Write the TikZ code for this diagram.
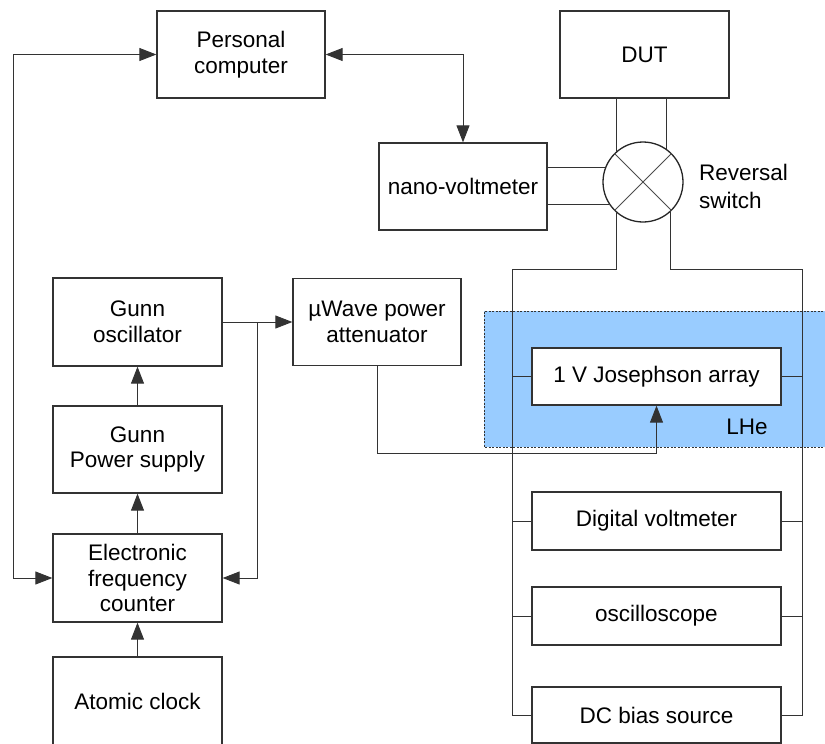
\documentclass[tikz,border=0pt]{standalone}
\usepackage{fontspec}
\setmainfont{Liberation Sans}
\usetikzlibrary{arrows.meta,calc}
\definecolor{lhe}{HTML}{99CCFF}
\definecolor{boxline}{HTML}{333333}
\begin{document}
\begin{tikzpicture}[x=1pt,y=-1pt,
  box/.style={draw=boxline,line width=1.3pt,fill=white,align=center,inner sep=0pt,
    font=\fontsize{22.5}{25.5}\selectfont},
  wire/.style={draw=black!80,line width=0.9pt},
  arr/.style={wire,-{Triangle[length=17pt,width=13pt]}},
  darr/.style={wire,{Triangle[length=17pt,width=13pt]}-{Triangle[length=17pt,width=13pt]}},
  lbl/.style={font=\fontsize{22.5}{28}\selectfont,inner sep=0pt}]
\useasboundingbox (0,0) rectangle (825,744);
% LHe region
\fill[lhe] (484,311) rectangle (830,447);
\draw[black!80,line width=0.8pt,dash pattern=on 2pt off 1.5pt] (830,311) -- (484,311) -- (484,447) -- (830,447);
\node[lbl,anchor=center] (lhelbl) at (747,427) {LHe};
% boxes
\node[box,minimum width=168pt,minimum height=87pt] (pc) at (241,54.5) {Personal\\computer};
\node[box,minimum width=169pt,minimum height=87pt] (dut) at (644.5,54.5) {DUT};
\node[box,minimum width=168pt,minimum height=87pt] (nv) at (463,186.5) {nano-voltmeter};
\node[draw=black!85,line width=1.3pt,circle,minimum size=80pt,inner sep=0pt,fill=white] (sw) at (643,182) {};
\draw[black!70,line width=0.8pt] (sw.north west) -- (sw.south east) (sw.north east) -- (sw.south west);
\node[lbl,anchor=west,align=left] (swlbl) at (699,186) {Reversal\\switch};
\node[box,minimum width=169pt,minimum height=88pt] (gosc) at (137.5,322) {Gunn\\oscillator};
\node[box,minimum width=169pt,minimum height=87pt] (gps) at (137.5,449.5) {Gunn\\Power supply};
\node[box,minimum width=169pt,minimum height=88pt] (efc) at (137.5,578) {Electronic\\frequency\\counter};
\node[box,minimum width=169pt,minimum height=88pt] (ac) at (137.5,701) {Atomic clock};
\node[box,minimum width=168pt,minimum height=87pt] (att) at (377,322) {µWave power\\attenuator};
\node[box,minimum width=249pt,minimum height=57pt] (ja) at (656.5,376.5) {1 V Josephson array};
\node[box,minimum width=249pt,minimum height=58pt] (dvm) at (656.5,521) {Digital voltmeter};
\node[box,minimum width=249pt,minimum height=58pt] (osc) at (656.5,616) {oscilloscope};
\node[box,minimum width=249pt,minimum height=56pt] (dcb) at (656.5,715) {DC bias source};
% coordinates
\coordinate (pl) at (13,54.5);
\coordinate (br) at (257,322);
\coordinate (jb) at (377,453);
\coordinate (lt) at (512,269);
\coordinate (rt) at (802,269);
\coordinate (lb) at (512,715);
\coordinate (rb) at (802,715);
% PC links
\draw[darr] (efc.west) -- (efc.west -| pl) -- (pl) -- (pc.west);
\draw[darr] (pc.east) -| (nv.north);
% Gunn chain
\draw[arr] (gps.north) -- (gosc.south);
\draw[arr] (efc.north) -- (gps.south);
\draw[arr] (ac.north) -- (efc.south);
\draw[arr] (gosc.east) -- (att.west);
\draw[arr] (br) |- (efc.east);
\draw[arr] (att.south) -- (jb) -| (ja.south);
% switch wiring
\draw[wire] (sw.130.5 |- dut.south) -- (sw.130.5);
\draw[wire] (sw.54.9 |- dut.south) -- (sw.54.9);
\draw[wire] (nv.east |- sw.159.5) -- (sw.159.5);
\draw[wire] (nv.east |- sw.213.4) -- (sw.213.4);
\draw[wire] (sw.-131) |- (lt) -- (lb) -- (dcb.west);
\draw[wire] (sw.-47.5) |- (rt) -- (rb) -- (dcb.east);
\draw[wire] (ja.west) -- (ja.west -| lt);
\draw[wire] (ja.east) -- (ja.east -| rt);
\draw[wire] (dvm.west) -- (dvm.west -| lt);
\draw[wire] (dvm.east) -- (dvm.east -| rt);
\draw[wire] (osc.west) -- (osc.west -| lt);
\draw[wire] (osc.east) -- (osc.east -| rt);
\end{tikzpicture}
\end{document}
